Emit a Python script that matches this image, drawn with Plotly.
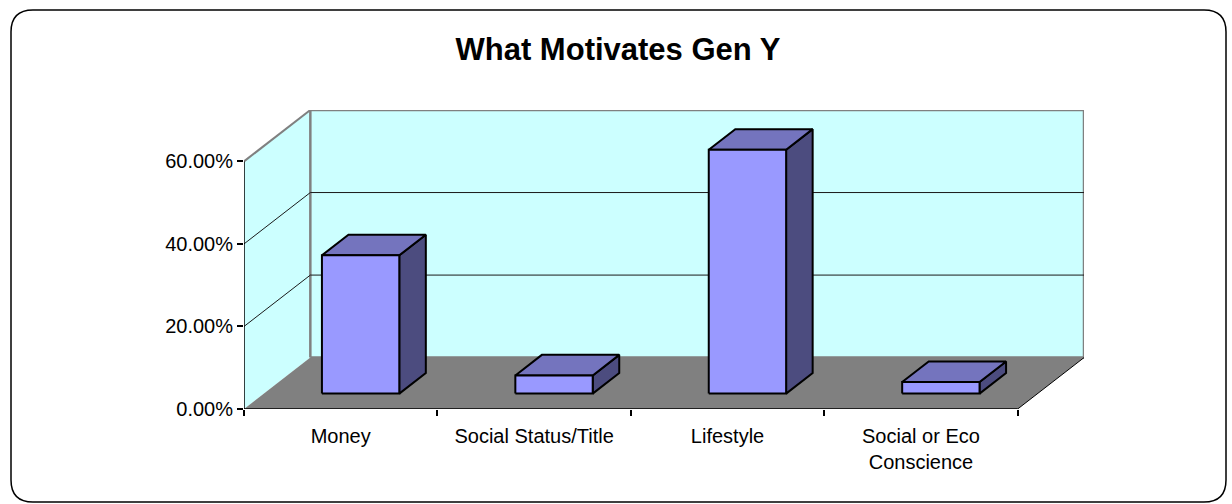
import plotly.graph_objects as go

# ---- data ----
categories = ["Money", "Social Status/Title", "Lifestyle", "Social or Eco<br>Conscience"]
values = [33.5, 4.4, 59.1, 2.8]
y_ticks = [0, 20, 40, 60]
y_tick_labels = ["0.00%", "20.00%", "40.00%", "60.00%"]
title = "What Motivates Gen Y"

# ---- geometry / style ----
W, H = 1232, 504
L, R, T, B = 244, 148, 110, 95
DX = 0.343      # oblique depth in category units
DY = 12.45      # oblique depth in percent units
YMAX = 60
N = len(categories)
BAR0, BAR1 = 0.3, 0.7
D0, D1 = 0.3, 0.7
FONT = "Liberation Sans, Arial, sans-serif"
WALL = "#CCFFFF"
FLOOR = "#808080"
FRONT, TOP, SIDE = "#9999FF", "#7474BE", "#4C4C7F"

fig = go.Figure()


def poly(xs, ys, fill, line_color=None, lw=0, close=True):
    if close:
        xs = list(xs) + [xs[0]]
        ys = list(ys) + [ys[0]]
    fig.add_trace(go.Scatter(
        x=xs, y=ys, mode="lines", fill="toself" if fill else None,
        fillcolor=fill, line=dict(color=line_color or "rgba(0,0,0,0)", width=lw),
        hoverinfo="skip", showlegend=False, cliponaxis=False))


def line(xs, ys, color, lw):
    fig.add_trace(go.Scatter(
        x=xs, y=ys, mode="lines", line=dict(color=color, width=lw),
        hoverinfo="skip", showlegend=False, cliponaxis=False))


# walls
poly([0, 0, DX, DX], [0, YMAX, YMAX + DY, DY], WALL)
poly([DX, DX, N + DX, N + DX], [DY, YMAX + DY, YMAX + DY, DY], WALL, "#808080", 2.5)
# floor
poly([0, N, N + DX, DX], [0, 0, DY, DY], FLOOR)
line([N, N + DX], [0, DY], "#000000", 1)
# gridlines
for v in y_ticks[1:-1]:
    line([0, DX, N + DX], [v, v + DY, v + DY], "#1a1a1a", 1)
# left wall top edge
line([0, DX], [YMAX, YMAX + DY], "#808080", 2)
# axis lines
line([0, 0], [0, YMAX], "#000000", 1.5)
line([0, N], [0, 0], "#000000", 1.5)

# bars
ddx, ddy = (D1 - D0) * DX, (D1 - D0) * DY
fx, fy, tx, ty, sx, sy = [], [], [], [], [], []
for i, v in enumerate(values):
    x0 = i + BAR0 + D0 * DX
    x1 = i + BAR1 + D0 * DX
    yb = D0 * DY
    yt = yb + v
    fx += [x0, x1, x1, x0, x0, None]
    fy += [yb, yb, yt, yt, yb, None]
    tx += [x0, x1, x1 + ddx, x0 + ddx, x0, None]
    ty += [yt, yt, yt + ddy, yt + ddy, yt, None]
    sx += [x1, x1 + ddx, x1 + ddx, x1, x1, None]
    sy += [yb, yb + ddy, yt + ddy, yt, yb, None]
for xs, ys, c in [(sx, sy, SIDE), (tx, ty, TOP), (fx, fy, FRONT)]:
    fig.add_trace(go.Scatter(x=xs, y=ys, mode="lines", fill="toself", fillcolor=c,
                             line=dict(color="#000000", width=2), hoverinfo="skip",
                             showlegend=False, cliponaxis=False))

# outer rounded border (paper coordinates derived from pixel frame)
pw, ph = W - L - R, H - T - B


def px(x):
    return (x - L) / pw


def py(y):
    return (H - B - y) / ph


bx0, by0, bx1, by1, rad = 11, 10, 1226, 502, 22
path = (f"M {px(bx0 + rad)} {py(by0)} L {px(bx1 - rad)} {py(by0)} "
        f"Q {px(bx1)} {py(by0)} {px(bx1)} {py(by0 + rad)} "
        f"L {px(bx1)} {py(by1 - rad)} Q {px(bx1)} {py(by1)} {px(bx1 - rad)} {py(by1)} "
        f"L {px(bx0 + rad)} {py(by1)} Q {px(bx0)} {py(by1)} {px(bx0)} {py(by1 - rad)} "
        f"L {px(bx0)} {py(by0 + rad)} Q {px(bx0)} {py(by0)} {px(bx0 + rad)} {py(by0)} Z")

fig.update_layout(
    width=W, height=H, autosize=False,
    margin=dict(l=L, r=R, t=T, b=B, pad=0),
    paper_bgcolor="white", plot_bgcolor="rgba(0,0,0,0)",
    font=dict(family=FONT, size=20, color="#000000"),
    title=dict(text=f"<b>{title}</b>", x=618 / W, xref="container", xanchor="center",
               y=1 - 49 / H, yref="container", yanchor="middle",
               font=dict(family=FONT, size=31, color="#000000")),
    shapes=[dict(type="path", xref="paper", yref="paper", path=path,
                 line=dict(color="#000000", width=1.5), layer="above")],
    xaxis=dict(range=[0, N + DX], showgrid=False, zeroline=False, showline=False,
               tickmode="array", tickvals=[i + 0.5 for i in range(N)], ticktext=categories,
               ticks="outside", ticklen=6, tickcolor="rgba(0,0,0,0)", ticklabelstandoff=3,
               minor=dict(tickmode="array", tickvals=list(range(N + 1)), ticks="outside",
                          ticklen=6, tickcolor="#000000", tickwidth=1.5, showgrid=False),
               tickfont=dict(family=FONT, size=20), fixedrange=True),
    yaxis=dict(range=[0, YMAX + DY], showgrid=False, zeroline=False, showline=False,
               tickmode="array", tickvals=y_ticks, ticktext=y_tick_labels,
               ticks="outside", ticklen=6, tickcolor="#000000", tickwidth=1.5,
               tickfont=dict(family=FONT, size=20), fixedrange=True),
)

fig.write_html("out.html", config={"displayModeBar": False},
               post_script="document.body.style.margin='0px';")
